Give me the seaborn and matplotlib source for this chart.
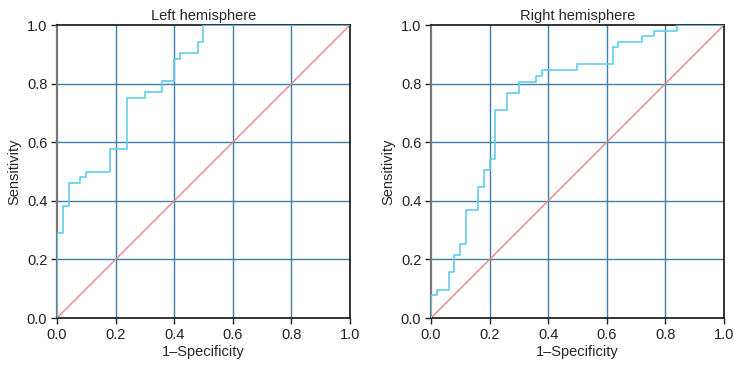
import numpy as np
import pandas as pd
import matplotlib
matplotlib.use("Agg")
import matplotlib.pyplot as plt
import seaborn as sns

# %% data: ROC step points (1-specificity, sensitivity), steps-post
left_fpr = [0.0, 0.0, 0.02, 0.04, 0.08, 0.10, 0.18, 0.24, 0.30, 0.36, 0.40, 0.42, 0.48, 0.50, 1.0]
left_tpr = [0.0, 0.29, 0.384, 0.461, 0.48, 0.50, 0.577, 0.75, 0.77, 0.81, 0.885, 0.904, 0.942, 1.0, 1.0]

right_fpr = [0.0, 0.0, 0.02, 0.06, 0.08, 0.10, 0.12, 0.16, 0.18, 0.20, 0.22, 0.26, 0.30,
             0.36, 0.38, 0.50, 0.62, 0.64, 0.72, 0.76, 0.84, 1.0]
right_tpr = [0.0, 0.078, 0.097, 0.157, 0.214, 0.253, 0.368, 0.446, 0.505, 0.543, 0.71, 0.769, 0.807,
             0.828, 0.847, 0.866, 0.924, 0.942, 0.962, 0.981, 1.0, 1.0]

ref_line = [0.0, 1.0]
ticks = [0.0, 0.2, 0.4, 0.6, 0.8, 1.0]
titles = ["Left hemisphere", "Right hemisphere"]

# %% style
sns.set_style("white")
plt.rcParams['font.family'] = ['Liberation Sans', 'DejaVu Sans']

curve_col = "#62cdee"
diag_col = "#e88484"
grid_col = "#3f7fa8"
fs = 10.5

fig = plt.figure(figsize=(7.34, 3.67), dpi=100)
ax_l = fig.add_axes([0.0777, 0.1335, 0.399, 0.798])
ax_r = fig.add_axes([0.5872, 0.1335, 0.399, 0.798])

panels = [(ax_l, left_fpr, left_tpr), (ax_r, right_fpr, right_tpr)]
for (ax, fpr, tpr), title in zip(panels, titles):
    for t in ticks[1:-1]:
        ax.axhline(t, color=grid_col, lw=1, zorder=1)
        ax.axvline(t, color=grid_col, lw=1, zorder=1)
    sns.lineplot(x=ref_line, y=ref_line, ax=ax, color=diag_col, lw=1, zorder=2)
    df = pd.DataFrame({'fpr': fpr, 'tpr': tpr})
    sns.lineplot(data=df, x='fpr', y='tpr', ax=ax, sort=False, estimator=None,
                 drawstyle='steps-post', color=curve_col, lw=1.2, zorder=3)
    ax.set_xlim(0, 1)
    ax.set_ylim(0, 1)
    ax.set_xticks(ticks)
    ax.set_yticks(ticks)
    ax.set_xticklabels([f"{t:.1f}" for t in ticks])
    ax.set_yticklabels([f"{t:.1f}" for t in ticks])
    ax.tick_params(axis='both', direction='out', length=4, width=1, labelsize=fs,
                   colors='#222222', pad=3, bottom=True, left=True)
    ax.set_xlabel("1–Specificity", fontsize=fs, labelpad=2)
    ax.set_ylabel("Sensitivity", fontsize=fs, labelpad=4)
    ax.set_title(title, fontsize=fs, pad=4)
    for side in ['top', 'right', 'bottom']:
        ax.spines[side].set_color('#111111')
        ax.spines[side].set_linewidth(1.2)
    ax.spines['left'].set_color('#777777')
    ax.spines['left'].set_linewidth(1.6)

fig.savefig("out.png", dpi=100)
